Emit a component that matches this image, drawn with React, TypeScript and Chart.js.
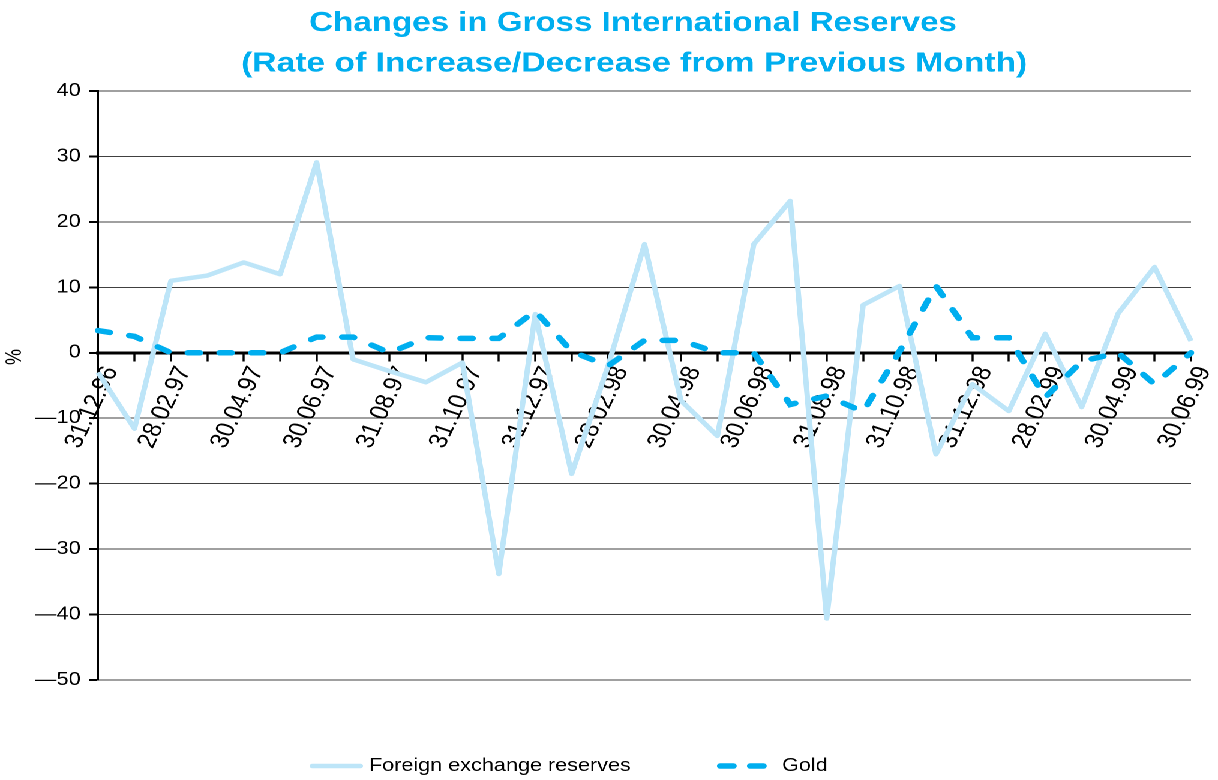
import React, { useEffect, useRef } from 'react';
import { Chart, registerables } from 'chart.js';

Chart.register(...registerables);

// ---- data ----
const categories = [
  '31.12.96', '31.01.97', '28.02.97', '31.03.97', '30.04.97', '31.05.97', '30.06.97',
  '31.07.97', '31.08.97', '30.09.97', '31.10.97', '30.11.97', '31.12.97',
  '31.01.98', '28.02.98', '31.03.98', '30.04.98', '31.05.98', '30.06.98',
  '31.07.98', '31.08.98', '30.09.98', '31.10.98', '30.11.98', '31.12.98',
  '31.01.99', '28.02.99', '31.03.99', '30.04.99', '31.05.99', '30.06.99',
];

const foreignExchange = [
  -3.0, -11.6, 11.0, 11.8, 13.8, 12.0, 29.1, -1.0, -2.8, -4.5, -1.5, -33.8, 5.9,
  -18.5, -2.0, 16.6, -7.3, -12.7, 16.6, 23.2, -40.6, 7.3, 10.2, -15.5, -4.8,
  -8.9, 2.9, -8.3, 6.0, 13.1, 1.8,
];

const gold = [
  3.4, 2.5, 0, 0, 0, 0, 2.4, 2.4, 0, 2.3, 2.2, 2.2, 6.4,
  0.2, -2.0, 1.9, 1.9, 0, 0, -7.9, -6.6, -9.0, 0.2, 10.2, 2.3,
  2.3, -6.8, -1.3, 0, -4.8, 0,
];

const seriesNames = ['Foreign exchange reserves', 'Gold'];
const titleLines = [
  'Changes in Gross International Reserves',
  '(Rate of Increase/Decrease from Previous Month)',
];
const yAxisTitle = '%';
const yMin = -50;
const yMax = 40;
const yStep = 10;

// ---- styling ----
const STRETCH = 1.2;
const PAGE_W = 1218;
const PAGE_H = 780;
const CANVAS_W = PAGE_W / STRETCH;
const FONT = '"Liberation Sans", Arial, Helvetica, sans-serif';
const TITLE_COLOR = '#00AEEF';
const FX_COLOR = '#BDE5F8';
const GOLD_COLOR = '#00AEEF';

const extrasPlugin = {
  id: 'extras',
  afterDraw(chart: any) {
    const ctx = chart.ctx as CanvasRenderingContext2D;
    const left = chart.chartArea.left;

    // title
    ctx.save();
    ctx.fillStyle = TITLE_COLOR;
    ctx.textAlign = 'center';
    ctx.textBaseline = 'middle';
    ctx.font = `bold 27.6px ${FONT}`;
    ctx.fillText(titleLines[0], 527.5, 23.5);
    ctx.font = `bold 28px ${FONT}`;
    ctx.fillText(titleLines[1], 528.5, 64);
    ctx.restore();

    // y-axis title
    ctx.save();
    ctx.font = `18px ${FONT}`;
    ctx.fillStyle = '#000';
    ctx.textAlign = 'center';
    ctx.textBaseline = 'middle';
    ctx.translate(12.5, 357);
    ctx.rotate(-Math.PI / 2);
    ctx.fillText(yAxisTitle, 0, 0);
    ctx.restore();

    // legend
    const ly = 766;
    ctx.save();
    ctx.font = `18px ${FONT}`;
    ctx.textAlign = 'left';
    ctx.textBaseline = 'middle';
    ctx.fillStyle = '#000';
    ctx.lineCap = 'round';
    ctx.strokeStyle = FX_COLOR;
    ctx.lineWidth = 4.5;
    ctx.beginPath();
    ctx.moveTo(left + 178.6, ly);
    ctx.lineTo(left + 218.6, ly);
    ctx.stroke();
    ctx.fillText(seriesNames[0], left + 225.8, ly);
    ctx.strokeStyle = GOLD_COLOR;
    ctx.lineWidth = 5.5;
    ctx.setLineDash([11, 14]);
    ctx.beginPath();
    ctx.moveTo(left + 518.5, ly);
    ctx.lineTo(left + 554.5, ly);
    ctx.stroke();
    ctx.setLineDash([]);
    ctx.fillText(seriesNames[1], left + 570, ly);
    ctx.restore();
  },
};

export default function App() {
  const ref = useRef<HTMLCanvasElement | null>(null);

  useEffect(() => {
    if (!ref.current) return;
    const chart = new Chart(ref.current, {
      type: 'line',
      data: {
        labels: categories,
        datasets: [
          {
            label: seriesNames[0],
            data: foreignExchange,
            borderColor: FX_COLOR,
            backgroundColor: FX_COLOR,
            borderWidth: 4.5,
            pointRadius: 0,
            tension: 0,
            fill: false,
            borderJoinStyle: 'round',
            order: 1,
          },
          {
            label: seriesNames[1],
            data: gold,
            borderColor: GOLD_COLOR,
            backgroundColor: GOLD_COLOR,
            borderWidth: 5.5,
            borderDash: [10, 16.5],
            borderCapStyle: 'round',
            pointRadius: 0,
            tension: 0,
            fill: false,
            order: 0,
          },
        ],
      },
      options: {
        animation: false,
        responsive: true,
        maintainAspectRatio: false,
        devicePixelRatio: 2,
        layout: { padding: { left: 0, right: 22.5, top: 91, bottom: 100 } },
        plugins: {
          legend: { display: false },
          tooltip: { enabled: false },
          title: { display: false },
        },
        scales: {
          x: {
            type: 'category',
            position: { y: 0 } as any,
            offset: false,
            afterFit: (s: any) => {
              s.paddingLeft = 0;
              s.paddingRight = 0;
              s.paddingTop = 0;
              s.paddingBottom = 0;
            },
            grid: {
              display: true,
              drawOnChartArea: false,
              drawTicks: true,
              tickLength: 7,
              tickWidth: 1.7,
              tickColor: '#000',
            },
            border: { display: true, color: '#000', width: 3 },
            ticks: {
              autoSkip: false,
              minRotation: 68,
              maxRotation: 68,
              padding: 3,
              labelOffset: 11,
              color: '#000',
              font: { family: FONT, size: 22 },
              callback: (_v: any, i: number) => (i % 2 === 0 ? categories[i] : ''),
            },
          },
          y: {
            min: yMin,
            max: yMax,
            afterFit: (s: any) => {
              s.width = 81.7;
            },
            grid: {
              color: '#404040',
              lineWidth: 1,
              tickLength: 7.5,
              tickWidth: 2,
              tickColor: '#000',
            },
            border: { display: true, color: '#000', width: 2 },
            ticks: {
              stepSize: yStep,
              padding: 7,
              color: '#000',
              font: { family: FONT, size: 18 },
              callback: (v: any) => (Number(v) < 0 ? '\u2014' + Math.abs(Number(v)) : String(v)),
            },
          },
        },
      },
      plugins: [extrasPlugin],
    } as any);
    return () => chart.destroy();
  }, []);

  return (
    <div
      style={{
        position: 'absolute',
        left: 0,
        top: 0,
        width: CANVAS_W,
        height: PAGE_H,
        transform: `scaleX(${STRETCH})`,
        transformOrigin: '0 0',
        background: '#fff',
      }}
    >
      <canvas ref={ref} />
    </div>
  );
}
